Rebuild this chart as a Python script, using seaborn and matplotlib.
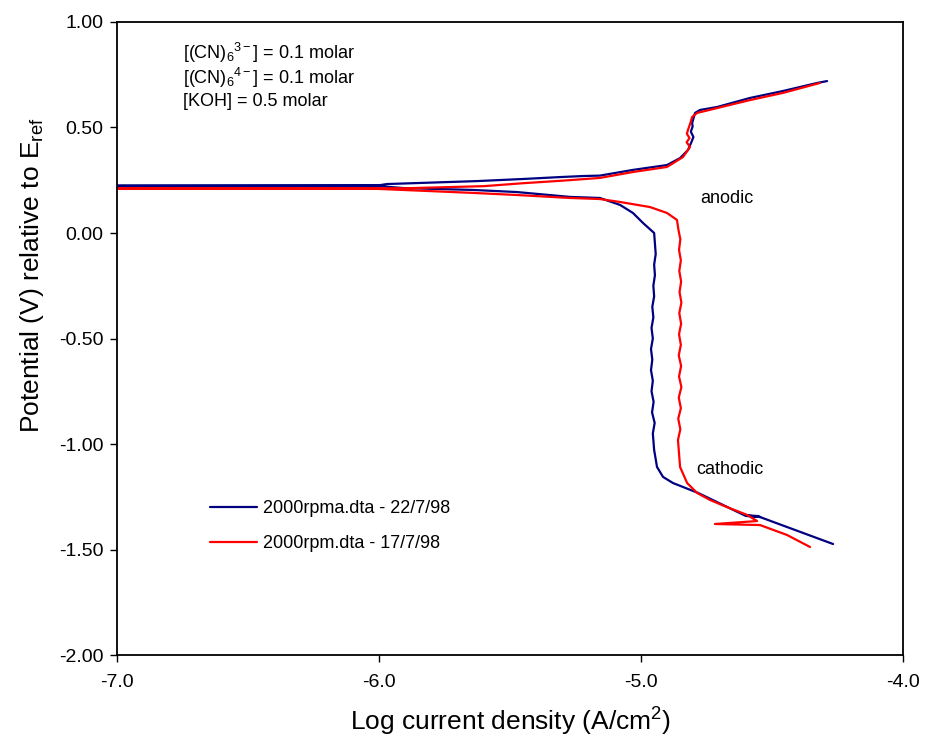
import pandas as pd
import matplotlib
matplotlib.use("Agg")
import matplotlib.pyplot as plt
from matplotlib.ticker import FuncFormatter
import seaborn as sns

# run 1 (navy): scan from the cathodic end up to the anodic end
blue_label = "2000rpma.dta - 22/7/98"
blue_x = [-4.267, -4.557, -4.600, -4.545, -4.600, -4.782, -4.878, -4.916, -4.939,
          -4.950, -4.955, -4.948, -4.958, -4.952, -4.960, -4.955, -4.962, -4.957,
          -4.962, -4.955, -4.960, -4.953, -4.957, -4.950, -4.953, -4.947, -4.950,
          -4.944, -4.947, -4.950,
          -4.992, -5.031, -5.080, -5.157, -5.271, -5.473, -5.641, -5.908, -5.996,
          -7.500, -7.500,
          -5.996, -5.970, -5.626, -5.450, -5.310, -5.220, -5.157, -5.031, -4.901,
          -4.851, -4.821, -4.808, -4.800, -4.810, -4.803, -4.805, -4.794, -4.775,
          -4.710, -4.584, -4.458, -4.328, -4.290]
blue_y = [-1.474, -1.341, -1.338, -1.346, -1.341, -1.232, -1.185, -1.156, -1.109,
          -1.028, -0.950, -0.900, -0.850, -0.800, -0.750, -0.700, -0.650, -0.600,
          -0.550, -0.500, -0.450, -0.400, -0.350, -0.300, -0.250, -0.200, -0.150,
          -0.100, -0.050, 0.000,
          0.047, 0.095, 0.133, 0.166, 0.171, 0.194, 0.204, 0.213, 0.222,
          0.222, 0.225,
          0.227, 0.232, 0.246, 0.256, 0.265, 0.270, 0.272, 0.299, 0.322,
          0.355, 0.393, 0.430, 0.455, 0.480, 0.505, 0.521, 0.569, 0.583,
          0.597, 0.640, 0.673, 0.711, 0.720]

# run 2 (red)
red_label = "2000rpm.dta - 17/7/98"
red_x = [-4.355, -4.443, -4.546, -4.718, -4.557, -4.595, -4.672, -4.737, -4.786,
         -4.824, -4.851,
         -4.859, -4.850, -4.858, -4.848, -4.856, -4.846, -4.855, -4.847, -4.856,
         -4.848, -4.855, -4.847, -4.854, -4.846, -4.853, -4.847, -4.854, -4.848,
         -4.855, -4.850, -4.857,
         -4.863, -4.901, -4.966, -5.080, -5.157, -5.271, -5.473, -5.641, -5.908,
         -6.008, -7.500, -7.500,
         -5.900, -5.600, -5.450, -5.300, -5.157, -5.031, -4.901, -4.840, -4.813,
         -4.826, -4.815, -4.825, -4.821, -4.812, -4.805, -4.786, -4.710, -4.584,
         -4.458, -4.317]
red_y = [-1.488, -1.431, -1.384, -1.379, -1.365, -1.336, -1.299, -1.265, -1.232,
         -1.185, -1.109,
         -0.981, -0.930, -0.880, -0.830, -0.780, -0.730, -0.680, -0.630, -0.580,
         -0.530, -0.480, -0.430, -0.380, -0.330, -0.280, -0.230, -0.180, -0.130,
         -0.080, -0.030, 0.014,
         0.062, 0.095, 0.123, 0.147, 0.161, 0.166, 0.180, 0.190, 0.204,
         0.209, 0.209, 0.212,
         0.212, 0.222, 0.236, 0.248, 0.261, 0.289, 0.313, 0.360, 0.408,
         0.430, 0.450, 0.470, 0.488, 0.520, 0.550, 0.569, 0.592, 0.630,
         0.664, 0.711]

df = pd.concat([
    pd.DataFrame({"logi": blue_x, "E": blue_y, "run": blue_label}),
    pd.DataFrame({"logi": red_x, "E": red_y, "run": red_label}),
], ignore_index=True)

sns.set_style("ticks")
plt.rcParams["font.family"] = ["Liberation Sans", "DejaVu Sans"]
plt.rcParams["mathtext.fontset"] = "custom"
plt.rcParams["mathtext.rm"] = "Liberation Sans"
plt.rcParams["mathtext.it"] = "Liberation Sans:italic"
plt.rcParams["axes.unicode_minus"] = False
plt.rcParams["text.color"] = "black"
plt.rcParams["axes.labelcolor"] = "black"

fig = plt.figure(figsize=(9.26, 7.48), dpi=100)
ax = fig.add_axes([0.1264, 0.1243, 0.8488, 0.8463])

sns.lineplot(data=df, x="logi", y="E", hue="run", sort=False, estimator=None,
             palette={blue_label: "#000080", red_label: "#ff0000"},
             linewidth=1.6, ax=ax)

ax.set_xlim(-7, -4)
ax.set_ylim(-2, 1)
ax.set_xticks([-7, -6, -5, -4])
ax.set_yticks([1.0, 0.5, 0.0, -0.5, -1.0, -1.5, -2.0])
ax.xaxis.set_major_formatter(FuncFormatter(lambda v, p: f"{v:.1f}"))
ax.yaxis.set_major_formatter(FuncFormatter(lambda v, p: f"{v:.2f}"))
ax.tick_params(direction="out", length=5, width=1, labelsize=14, colors="black", pad=5)
ax.tick_params(axis="x", pad=9)
for s in ax.spines.values():
    s.set_linewidth(1.3)
    s.set_color("black")

ax.set_xlabel("Log current density (A/cm$^\\mathregular{2}$)", fontsize=19, labelpad=10)
ax.set_ylabel("Potential (V) relative to E$_\\mathregular{ref}$", fontsize=19)
ax.yaxis.set_label_coords(-0.09, 0.6)

ax.text(-6.75, 0.855, "[(CN)$_\\mathregular{6}$$^\\mathregular{3-}$] = 0.1 molar", fontsize=13, va="center")
ax.text(-6.75, 0.735, "[(CN)$_\\mathregular{6}$$^\\mathregular{4-}$] = 0.1 molar", fontsize=13, va="center")
ax.text(-6.75, 0.625, "[KOH] = 0.5 molar", fontsize=13, va="center")
ax.text(-4.775, 0.165, "anodic", fontsize=13, va="center")
ax.text(-4.79, -1.12, "cathodic", fontsize=13, va="center")

ax.legend(loc="upper left", bbox_to_anchor=(0.098, 0.27), frameon=False,
          fontsize=13, handlelength=2.6, handletextpad=0.3, labelspacing=1.0)

fig.savefig("out.png", dpi=100)
